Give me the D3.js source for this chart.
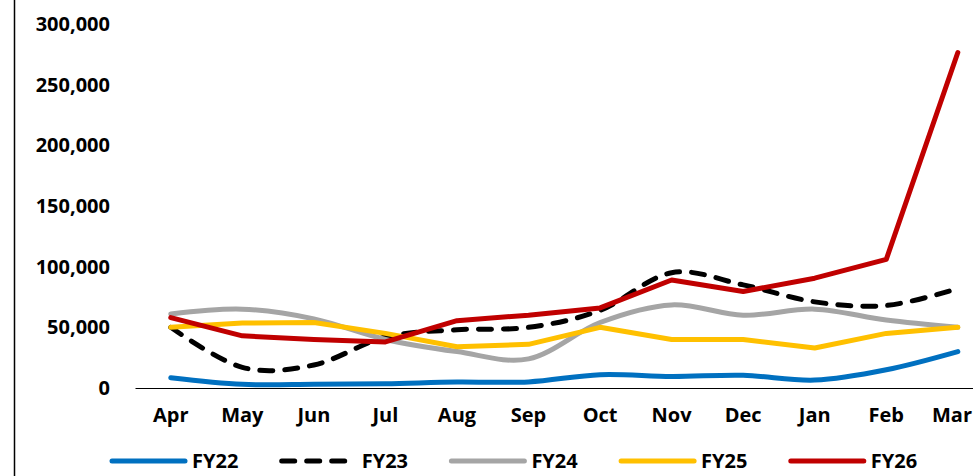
<!DOCTYPE html>
<html>
<head>
<meta charset="utf-8">
<script src="https://cdn.jsdelivr.net/npm/d3@7"></script>
<style>
  body { margin: 0; background: #fff; }
  svg text { font-family: "Open Sans", sans-serif; font-weight: bold; fill: #000; }
</style>
</head>
<body>
<svg width="973" height="476"></svg>
<script>
// data
var months = ["Apr","May","Jun","Jul","Aug","Sep","Oct","Nov","Dec","Jan","Feb","Mar"];
var fy22 = [8500, 3000, 3000, 3500, 5000, 5000, 11000, 9500, 10500, 6500, 15000, 30000];
var fy23 = [50000, 17000, 19000, 42000, 48000, 50000, 64000, 95000, 85000, 71000, 68000, 82000];
var fy24 = [61000, 65000, 57000, 40000, 30000, 24000, 54000, 68500, 60000, 65000, 56000, 50000];
var fy25 = [50000, 53500, 54000, 45000, 34000, 36000, 50000, 40000, 40000, 33000, 45000, 50000];
var fy26 = [58000, 43000, 40000, 38000, 55500, 60000, 66000, 89000, 79500, 90500, 106000, 276500];
var yTicks = [0, 50000, 100000, 150000, 200000, 250000, 300000];

var series = [
  {name:"FY22", values:fy22, color:"#0070C0", dash:null, smooth:true},
  {name:"FY23", values:fy23, color:"#000000", dash:"13,12", smooth:true},
  {name:"FY24", values:fy24, color:"#A5A5A5", dash:null, smooth:true},
  {name:"FY25", values:fy25, color:"#FFC000", dash:null, smooth:false},
  {name:"FY26", values:fy26, color:"#C00000", dash:null, smooth:false}
];

var svg = d3.select("svg");

// frame edge on the left
svg.append("line")
   .attr("x1", 14.5).attr("x2", 14.5)
   .attr("y1", 0).attr("y2", 476)
   .attr("stroke", "#000").attr("stroke-width", 1.5);

//scales
var step = 71.55;
var xScale = d3.scaleBand()
               .domain(months)
               .range([135, 135 + step * months.length]);

var yScale = d3.scaleLinear()
               .domain([0, 300000])
               .range([388, 24]);

//axes
var yAxis = svg.append("g")
               .attr("transform", "translate(135,0)")
               .call(d3.axisLeft(yScale).tickValues(yTicks).tickSize(0).tickPadding(25)
                       .tickFormat(d3.format(",")));
yAxis.select(".domain").remove();
yAxis.selectAll("text").style("font-size", "20px");

var xAxis = svg.append("g")
               .attr("transform", "translate(0,388)")
               .call(d3.axisBottom(xScale).tickSize(0).tickSizeOuter(0).tickPadding(20));
xAxis.select(".domain").attr("stroke", "#000").attr("stroke-width", 1.2);
xAxis.selectAll("text").style("font-size", "20px");
// last label sits at the window edge, keep it inside
xAxis.selectAll("text")
     .filter(function(d){ return d == "Mar"; })
     .attr("text-anchor", "end")
     .attr("x", 972 - xScale("Mar") - xScale.bandwidth() / 2);

//lines
series.forEach(function(s){
  var line = d3.line()
               .x(function(d, i){ return xScale(months[i]) + xScale.bandwidth() / 2; })
               .y(function(d){ return yScale(d); })
               .curve(s.smooth ? d3.curveCatmullRom.alpha(0) : d3.curveLinear);
  svg.append("path")
     .datum(s.values)
     .attr("d", line)
     .attr("fill", "none")
     .attr("stroke", s.color)
     .attr("stroke-width", 5)
     .attr("stroke-linecap", "round")
     .attr("stroke-linejoin", "round")
     .attr("stroke-dasharray", s.dash);
});

//legend
var legend = svg.append("g");
series.forEach(function(s, i){
  var x0 = 112 + i * 169.7;
  legend.append("line")
        .attr("x1", x0).attr("x2", x0 + 73)
        .attr("y1", 461).attr("y2", 461)
        .attr("stroke", s.color)
        .attr("stroke-width", 5)
        .attr("stroke-linecap", "round")
        .attr("stroke-dasharray", s.dash);
  legend.append("text")
        .attr("x", x0 + 80)
        .attr("y", 461)
        .attr("dy", "0.35em")
        .style("font-size", "20px")
        .text(s.name);
});
</script>
</body>
</html>
